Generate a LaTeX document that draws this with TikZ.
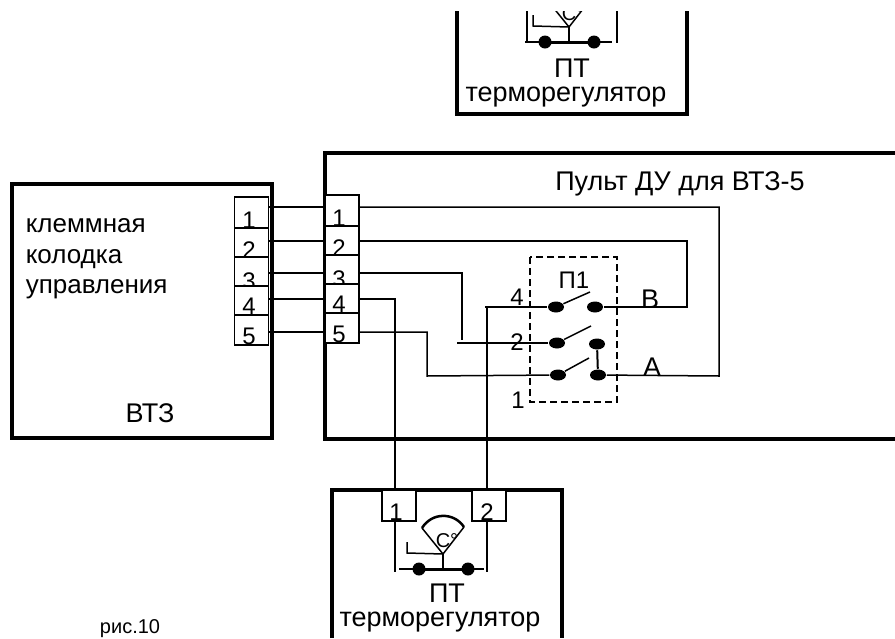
\documentclass[tikz,border=0pt]{standalone}
\usepackage{fontspec}
\setmainfont{Liberation Sans}
\usetikzlibrary{shapes.geometric}
\def\wirew{1.5pt}
\def\boxw{4pt}
\newcommand{\thermostat}{
  \draw (407,542) -- (407,553) -- (443,554);
  \draw (422,528) -- (443,554) -- (464,527);
  \draw[line width=2.5pt] (422,528) .. controls (432,512) and (454,512) .. (464,527);
  \draw (443,554) -- (443,569);
  \draw[line width=3pt] (419,569) -- (468,569);
  \node[contact,ball] at (419,569) {};
  \node[contact,ball] at (468,569) {};
  \node[txt,font=\fontsize{20}{22}\selectfont] at (447,547) {C°};
}

\begin{document}
\begin{tikzpicture}[x=1pt,y=-1pt,line width=\wirew,draw=black]
  \tikzstyle{txt}=[inner sep=0pt,anchor=base,font=\fontsize{24}{28}\selectfont]
  \tikzstyle{title}=[txt,font=\fontsize{27}{30}\selectfont]
  \tikzstyle{side}=[txt,anchor=base west,font=\fontsize{26}{30}\selectfont]
  \tikzstyle{terminal}=[draw,fill=white,minimum width=34pt,inner sep=0pt]
  \tikzstyle{contact}=[ellipse,fill=black,minimum width=16pt,minimum height=11pt,inner sep=0pt]
  \tikzstyle{ball}=[minimum width=13pt,minimum height=13pt]
  \tikzstyle{heavy}=[line width=\boxw]

  \useasboundingbox (0,0) rectangle (895,638);

  % blocks
  \node[draw,heavy,minimum width=260pt,minimum height=254pt,inner sep=0pt] (vtz) at (142,311) {};
  \draw[heavy] (895,153) -- (325,153) -- (325,439) -- (895,439);
  \draw[heavy] (457,11) -- (457,114) -- (687,114) -- (687,11);
  \draw[heavy] (332,638) -- (332,490) -- (562,490) -- (562,638);

  \node[side] (tk) at (25,232) {клеммная};
  \node[side] (tk2) at (25,263) {колодка};
  \node[side] (tk3) at (25,293) {управления};
  \node[title] (vt) at (150,422) {ВТЗ};
  \node[title] (pult) at (680,190) {Пульт ДУ для ВТЗ-5};
  \node[txt,font=\fontsize{20}{24}\selectfont] (ris) at (130,633) {рис.10};

  % terminal blocks, later ones hide the foot of the digit above
  \foreach \name / \y / \h / \b in {1/212.5/31/228,2/242.5/29/258,3/271.5/29/289,4/300.5/29/314,5/330/30/344}
  {
    \node[terminal,minimum height=\h pt] (L-\name) at (251.5,\y) {};
    \node[txt] at (249,\b) {\name};
  }
  \foreach \name / \y / \h / \b in {1/210.5/31/226,2/240.5/29/256,3/269.5/29/287,4/298.5/29/312,5/328/30/342}
  {
    \node[terminal,minimum height=\h pt] (R-\name) at (342,\y) {};
    \node[txt] at (339,\b) {\name};
  }

  % levels of the wires
  \foreach \name / \y in {1/207,2/241,3/273,4/299,5/332}
  {
    \coordinate (W-\name) at (0,\y);
    \draw (L-\name.east |- W-\name) -- (R-\name.west |- W-\name);
  }

  % switch
  \draw[dash pattern=on 7pt off 4pt] (530,257) rectangle (617,402);
  \node[contact] (S-1) at (556,307) {};
  \node[contact] (S-2) at (595,307) {};
  \node[contact] (S-3) at (557,343) {};
  \node[contact] (S-4) at (597,344) {};
  \node[contact] (S-5) at (558,375) {};
  \node[contact] (S-6) at (598,375) {};
  \coordinate (Sw-1) at (590,292);
  \coordinate (Sw-2) at (591,326);
  \coordinate (Sw-3) at (589,358);
  \draw (S-1) -- (Sw-1);
  \draw (S-3) -- (Sw-2);
  \draw (S-5) -- (Sw-3);
  \draw[line width=2pt] (S-4) -- (S-6);

  \node[txt] (p1) at (574,288) {П1};
  \node[txt] (c4) at (517,305) {4};
  \node[txt] (c2) at (517,350) {2};
  \node[txt] (c1) at (518,408) {1};
  \node[title] (cb) at (650,308) {В};
  \node[title] (ca) at (652,376) {А};

  % thermostat below
  \node[terminal,minimum height=31pt] (T-1) at (399,505.5) {};
  \node[terminal,minimum height=31pt] (T-2) at (489,505.5) {};
  \node[txt] at (396,520) {1};
  \node[txt] at (487,520) {2};
  \draw (395,521) -- (395,572);
  \draw (487,521) -- (487,572);
  \thermostat
  \draw (399,569) -- (484,569);
  \node[title] (pt) at (447,602) {ПТ};
  \node[title] (tr) at (440,626) {терморегулятор};

  % thermostat above, cut off at the top
  \begin{scope}
    \clip (440,11) rectangle (700,120);
    \begin{scope}[shift={(126,-527)}]
      \thermostat
      \draw (399,569) -- (486,569);
    \end{scope}
    \draw (527,11) -- (527,42);
    \draw (617,11) -- (617,43);
  \end{scope}
  \node[title] (pt2) at (572,77) {ПТ};
  \node[title] (tr2) at (566,101) {терморегулятор};

  % wiring of the remote
  \coordinate (b1) at (719,207);
  \coordinate (b2) at (719,376);
  \coordinate (b3) at (687,241);
  \coordinate (b4) at (687,307);
  \coordinate (b5) at (462,273);
  \coordinate (b6) at (462,340);
  \coordinate (b7) at (457,343);
  \coordinate (b8) at (427,332);
  \coordinate (b9) at (427,376);
  \coordinate (b10) at (395,299);
  \coordinate (b11) at (485,307);
  \coordinate (b12) at (487,307);

  \draw (R-1.east |- W-1) -- (b1) -- (b2) -- (S-6);
  \draw (R-2.east |- W-2) -- (b3) -- (b4) -- (S-2);
  \draw (R-3.east |- W-3) -- (b5) -- (b6);
  \draw (b7) -- (S-3);
  \draw (R-4.east |- W-4) -- (b10) -- (b10 |- T-1.north);
  \draw (R-5.east |- W-5) -- (b8) -- (b9) -- (S-5);
  \draw (b11) -- (S-1);
  \draw (b12) -- (b12 |- T-2.north);
\end{tikzpicture}
\end{document}
